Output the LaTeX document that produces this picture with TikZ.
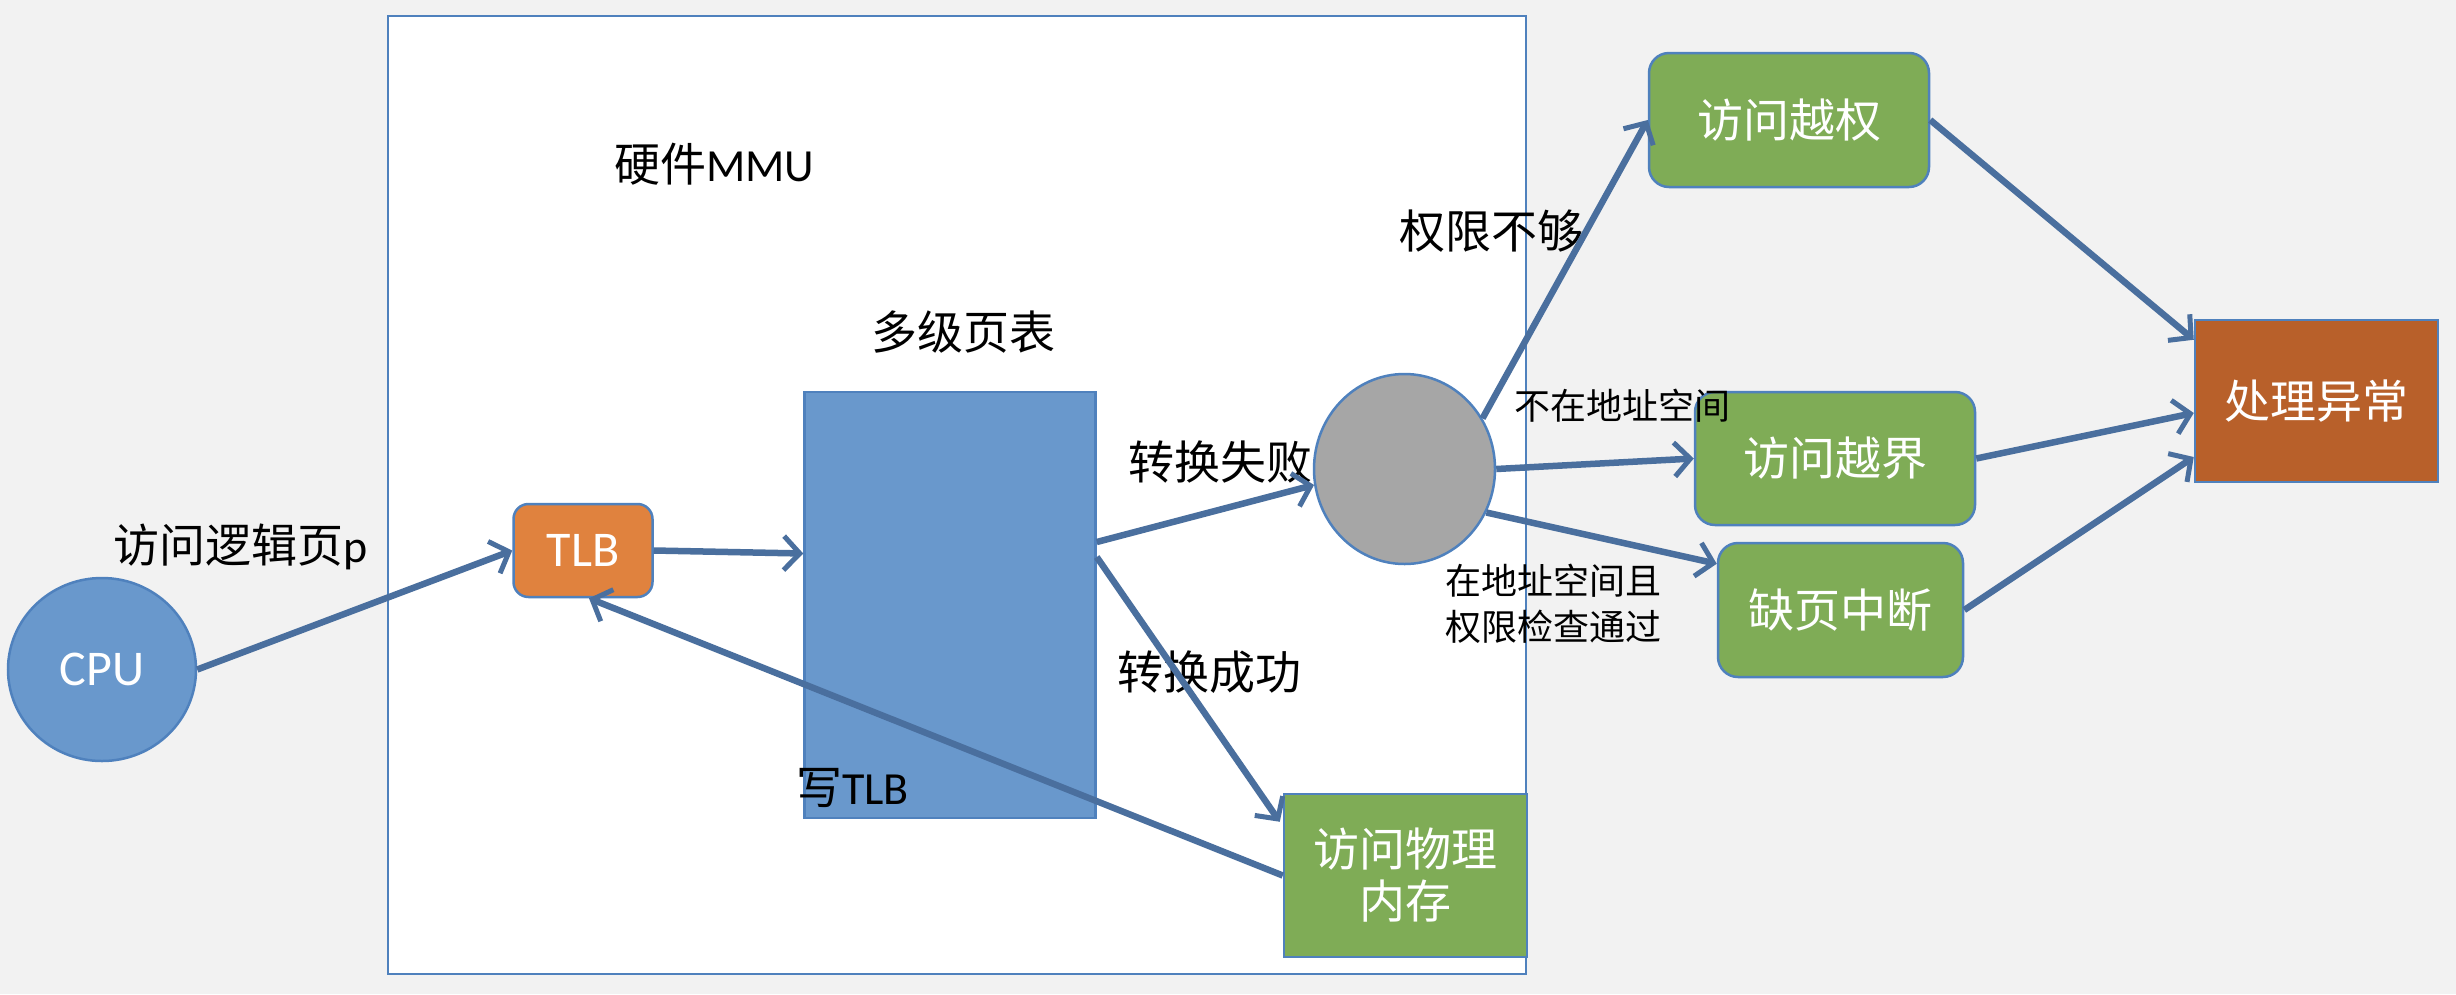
\documentclass[tikz,border=0pt]{standalone}
\usepackage{fontspec}
\setmainfont{Carlito}
\newfontfamily\cjk{Noto Sans CJK SC}
\usetikzlibrary{arrows.meta,shapes.geometric,calc}
\definecolor{bgc}{HTML}{F2F2F2}
\definecolor{bord}{HTML}{4F81BD}
\definecolor{arr}{HTML}{4A6F9E}
\definecolor{bluef}{HTML}{6998CC}
\definecolor{orangef}{HTML}{E0823E}
\definecolor{grayf}{HTML}{A6A6A6}
\definecolor{greenf}{HTML}{7FAC56}
\definecolor{darkor}{HTML}{B8602A}
\tikzset{
  big/.style={font=\fontsize{46}{52}\selectfont},
  bigger/.style={font=\fontsize{50}{56}\selectfont},
  small/.style={font=\fontsize{36}{46}\selectfont},
  lbl/.style={inner sep=0pt, text=black},
  shp/.style={draw=bord, line width=2.5pt, inner sep=0pt, text=white, big},
  rbox/.style={shp, rectangle, rounded corners=20pt, fill=greenf},
  conn/.style={draw=arr, line width=6.5pt, -{Straight Barb[length=16pt,width=34pt,line width=5pt]}}
}
\begin{document}
\begin{tikzpicture}[x=1pt,y=-1pt]
\useasboundingbox (0,0) rectangle (2456,994);
\fill[bgc] (0,0) rectangle (2456,994);
\draw[bord, line width=2pt, fill=white] (388,16) rectangle (1526,974);

% nodes
\node[shp, bigger, ellipse, fill=bluef, minimum width=188pt, minimum height=183pt] (cpu) at (102,669.5) {CPU};
\node[shp, bigger, rectangle, rounded corners=15pt, fill=orangef, minimum width=139pt, minimum height=93pt] (tlb) at (583,550.5) {TLB};
\node[shp, rectangle, fill=bluef, minimum width=291pt, minimum height=426pt] (pt) at (950,605) {};
\node[shp, ellipse, fill=grayf, minimum width=181pt, minimum height=190pt] (circ) at (1404.5,469) {};
\node[shp, rectangle, fill=greenf, minimum width=243pt, minimum height=163pt, align=center] (mem) at (1405.5,875.5) {\cjk 访问物理\\\cjk 内存};
\node[rbox, minimum width=280pt, minimum height=134pt] (quan) at (1789,120) {\cjk 访问越权};
\node[rbox, minimum width=280pt, minimum height=133pt] (jie) at (1835,458.5) {\cjk 访问越界};
\node[rbox, minimum width=245pt, minimum height=134pt] (que) at (1840.5,610) {\cjk 缺页中断};
\node[shp, rectangle, fill=darkor, minimum width=243pt, minimum height=162pt] (chuli) at (2316.5,401) {\cjk 处理异常};

% labels
\node[lbl, big, anchor=west] (l1) at (113,547) {{\cjk 访问逻辑页}p};
\node[lbl, big, anchor=west] (l2) at (614,164) {{\cjk 硬件}MMU};
\node[lbl, big] (l3) at (963,332) {\cjk 多级页表};
\node[lbl, big, anchor=west] (l4) at (1128,462) {\cjk 转换失败};
\node[lbl, big, anchor=west] (l5) at (1117,672) {\cjk 转换成功};
\node[lbl, big, anchor=west] (l6) at (796,788) {{\cjk 写}TLB};
\node[lbl, big, anchor=west] (l7) at (1399,231) {\cjk 权限不够};
\node[lbl, small, anchor=west] (l8) at (1514,406) {\cjk 不在地址空间};
\node[lbl, small, anchor=west, align=left] (l9) at (1445,604) {\cjk 在地址空间且\\\cjk 权限检查通过};

% connectors
\draw[conn] (cpu.east) -- (tlb.west);
\draw[conn] (tlb.east) -- ([yshift=-3pt]pt.west |- tlb.east);
\draw[conn] ([yshift=63pt]pt.east) -- (circ.190);
\draw[conn] ([yshift=48pt]pt.east) -- ([yshift=-29pt,xshift=-3pt]mem.north west);
\draw[conn] (mem.west) -- ([xshift=6pt]tlb.south);
\draw[conn] (circ.33) -- (quan.west);
\draw[conn] (circ.east) -- (jie.west);
\draw[conn] (circ.-28) -- ([yshift=-22pt]que.north west);
\draw[conn] (quan.east) -- ([yshift=-21pt]chuli.north west);
\draw[conn] (jie.east) -- ([yshift=-12pt]chuli.west);
\draw[conn] (que.east) -- ([yshift=-56pt]chuli.west);
\end{tikzpicture}
\end{document}
